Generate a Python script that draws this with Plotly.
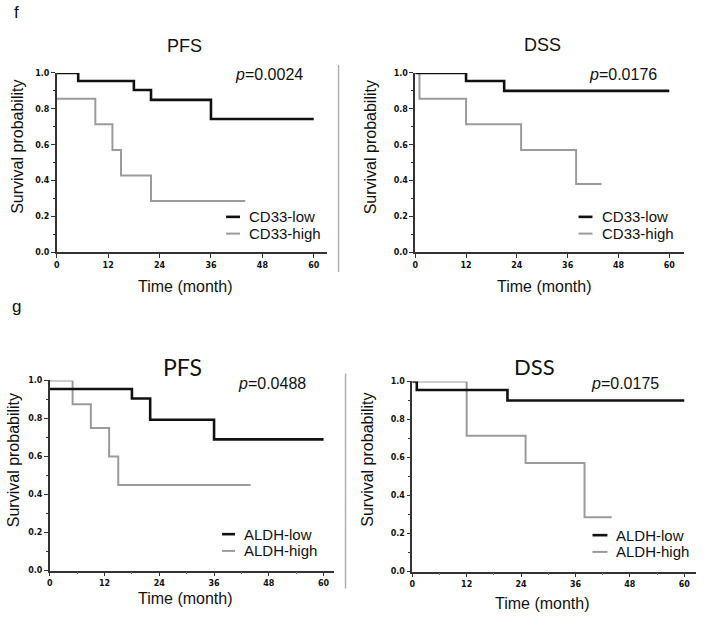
import plotly.graph_objects as go

W, H = 708, 619

# ---------------- data ----------------
f_pfs_low_t = [0, 5, 18, 22, 36, 60]
f_pfs_low_s = [1.0, 0.955, 0.905, 0.85, 0.743, 0.743]
f_pfs_high_t = [0, 9, 13, 15, 22, 44]
f_pfs_high_s = [0.857, 0.714, 0.571, 0.429, 0.286, 0.286]

f_dss_low_t = [0, 12, 21, 60]
f_dss_low_s = [1.0, 0.955, 0.9, 0.9]
f_dss_high_t = [0, 1, 12, 25, 38, 44]
f_dss_high_s = [1.0, 0.857, 0.714, 0.571, 0.381, 0.381]

g_pfs_low_t = [0, 18, 22, 36, 60]
g_pfs_low_s = [0.955, 0.905, 0.793, 0.69, 0.69]
g_pfs_high_t = [0, 5, 9, 13, 15, 44]
g_pfs_high_s = [1.0, 0.875, 0.75, 0.6, 0.45, 0.45]

g_dss_low_t = [0, 1, 21, 60]
g_dss_low_s = [1.0, 0.955, 0.9, 0.9]
g_dss_high_t = [0, 12, 25, 38, 44]
g_dss_high_s = [1.0, 0.714, 0.571, 0.286, 0.286]

x_ticks = [0, 12, 24, 36, 48, 60]
y_ticks = [0.0, 0.2, 0.4, 0.6, 0.8, 1.0]
panel_titles = ["PFS", "DSS", "PFS", "DSS"]
p_values = ["0.0024", "0.0176", "0.0488", "0.0175"]
group_f = ["CD33-low", "CD33-high"]
group_g = ["ALDH-low", "ALDH-high"]

BLACK = "#111111"
GRAY = "#9b9b9b"
AX = "#333333"


def px(x):
    return x / W


def py(y):
    return 1 - y / H


# panel geometry in page pixels: (x0, x1, y_top(1.0), y_bottom(0.0), xmax)
panels = [
    dict(x0=54, x1=325, yt=70, yb=252, xmax=63.0, minor_x=False),
    dict(x0=414, x1=684, yt=70, yb=252, xmax=63.5, minor_x=False),
    dict(x0=47, x1=332, yt=382, yb=575, xmax=62.2, minor_x=True),
    dict(x0=411, x1=696, yt=383, yb=576, xmax=62.6, minor_x=True),
]

series = [
    (f_pfs_low_t, f_pfs_low_s, f_pfs_high_t, f_pfs_high_s, group_f),
    (f_dss_low_t, f_dss_low_s, f_dss_high_t, f_dss_high_s, group_f),
    (g_pfs_low_t, g_pfs_low_s, g_pfs_high_t, g_pfs_high_s, group_g),
    (g_dss_low_t, g_dss_low_s, g_dss_high_t, g_dss_high_s, group_g),
]

fig = go.Figure()
layout = dict(
    width=W, height=H, margin=dict(l=0, r=0, t=0, b=0),
    paper_bgcolor="white", plot_bgcolor="white", showlegend=False,
    font=dict(family="Liberation Sans, Arial, sans-serif", color="#111"),
)
annotations = []
shapes = []

tickfont = dict(family="DejaVu Sans, Verdana, sans-serif", size=8, color="#111", weight="bold")

for i, (p, s) in enumerate(zip(panels, series)):
    n = "" if i == 0 else str(i + 1)
    xa, ya = "x" + n, "y" + n
    lt, ls, ht, hs, names = s
    fig.add_trace(go.Scatter(x=ht, y=hs, mode="lines", line=dict(color=GRAY, width=2, shape="hv"),
                             name=names[1], xaxis=xa, yaxis=ya, cliponaxis=False))
    fig.add_trace(go.Scatter(x=lt, y=ls, mode="lines", line=dict(color=BLACK, width=2.6, shape="hv"),
                             name=names[0], xaxis=xa, yaxis=ya, cliponaxis=False))
    xaxis = dict(domain=[px(p["x0"]), px(p["x1"])], range=[0, p["xmax"]], anchor=ya,
                 showline=True, linecolor=AX, linewidth=1.5, ticks="outside", ticklen=4,
                 tickwidth=1.3, tickcolor=AX, tickvals=x_ticks, tickfont=tickfont,
                 showgrid=False, zeroline=False, fixedrange=True)
    if p["minor_x"]:
        xaxis["minor"] = dict(dtick=6, tick0=0, ticks="outside", ticklen=2, tickwidth=1, tickcolor="#777", showgrid=False)
    yaxis = dict(domain=[py(p["yb"]), py(p["yt"])], range=[0, 1.0], anchor=xa,
                 showline=True, linecolor=AX, linewidth=1.5, ticks="outside", ticklen=4,
                 tickwidth=1.3, tickcolor=AX, tickvals=y_ticks, tickformat=".1f", tickfont=tickfont,
                 minor=dict(dtick=0.1, tick0=0, ticks="outside", ticklen=2.5, tickwidth=1, tickcolor=AX, showgrid=False),
                 showgrid=False, zeroline=False, fixedrange=True)
    layout["xaxis" + n] = xaxis
    layout["yaxis" + n] = yaxis


# ---------------- text ----------------
def ann(text, x, y, size, xanchor="center", yanchor="middle", family=None, angle=0, color="#111"):
    font = dict(size=size, color=color)
    if family:
        font["family"] = family
    annotations.append(dict(text=text, x=px(x), y=py(y), xref="paper", yref="paper",
                            showarrow=False, xanchor=xanchor, yanchor=yanchor,
                            font=font, textangle=angle))


# panel letters
ann("f", 14, 9, 17)
ann("g", 14, 307, 17)

# titles
ann(panel_titles[0], 182, 43, 18)
ann(panel_titles[1], 542, 42, 18)
ann(panel_titles[2], 180, 368, 23, family="Lato, Open Sans, sans-serif")
ann(panel_titles[3], 534, 368, 22, family="Lato, Open Sans, sans-serif")

# p-values
p_pos = [(231, 72), (586, 72), (234, 385), (588, 385)]
for (x, y), pv in zip(p_pos, p_values):
    ann("<i>p</i>=" + pv, x, y, 16, xanchor="left")

# axis titles
ytitle_pos = [(15, 145), (369, 145), (10, 463), (366, 462)]
for x, y in ytitle_pos:
    ann("Survival probability", x, y, 16, angle=-90)
xtitle_pos = [(183, 287), (544, 287), (183, 603), (542, 608)]
for x, y in xtitle_pos:
    ann("Time (month)", x, y, 16)

# legends (sample lines + labels)
leg = [
    (224, 238, 245, 216, 233, group_f),
    (578, 592, 600, 216, 233, group_f),
    (220, 233, 240, 538, 555, group_g),
    (592, 607, 614, 539, 556, group_g),
]
for lx0, lx1, tx, r1, r2, names in leg:
    shapes.append(dict(type="line", xref="paper", yref="paper", x0=px(lx0), x1=px(lx1), y0=py(r1), y1=py(r1),
                       line=dict(color=BLACK, width=2.6)))
    shapes.append(dict(type="line", xref="paper", yref="paper", x0=px(lx0), x1=px(lx1), y0=py(r2), y1=py(r2),
                       line=dict(color=GRAY, width=2)))
    ann(names[0], tx, r1, 15, xanchor="left")
    ann(names[1], tx, r2, 15, xanchor="left")

# vertical separators
shapes.append(dict(type="line", xref="paper", yref="paper", x0=px(337), x1=px(337), y0=py(62), y1=py(272),
                   line=dict(color="#b0b0b0", width=1.5)))
shapes.append(dict(type="line", xref="paper", yref="paper", x0=px(344), x1=px(344), y0=py(375), y1=py(593),
                   line=dict(color="#b0b0b0", width=1.5)))

layout["annotations"] = annotations
layout["shapes"] = shapes
fig.update_layout(**layout)
fig.write_html("out.html", config={"displayModeBar": False},
               post_script="document.body.style.margin='0';")
